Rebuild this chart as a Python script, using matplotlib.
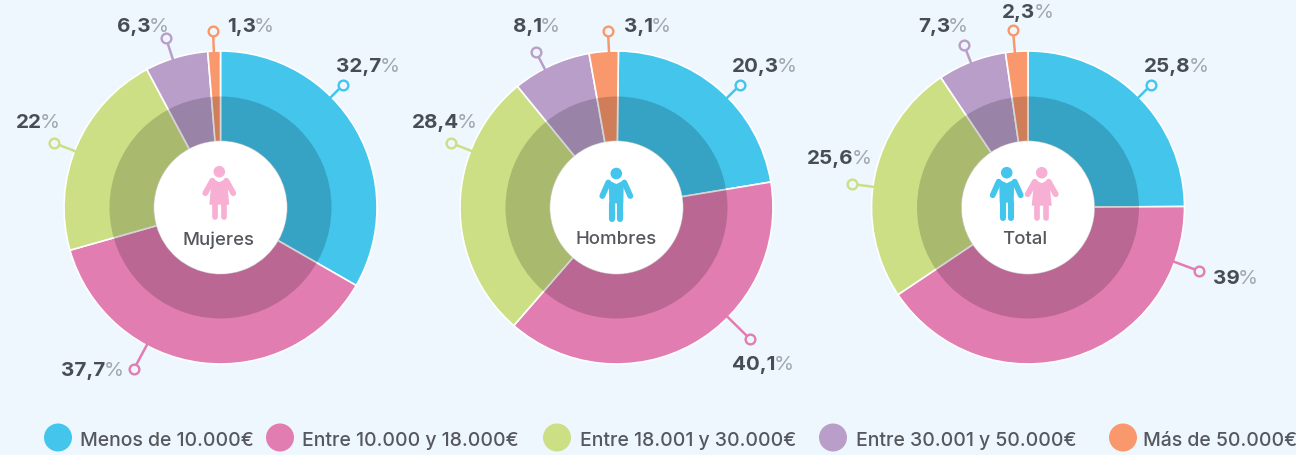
# -*- coding: utf-8 -*-
import matplotlib
matplotlib.use('Agg')
from matplotlib import pyplot as plt
from matplotlib.patches import Circle, Polygon

W, H = 1296, 455
BG = '#EEF7FD'
plt.rcParams['font.family'] = ['Inter', 'DejaVu Sans']

categories = ['Menos de 10.000€', 'Entre 10.000 y 18.000€', 'Entre 18.001 y 30.000€',
              'Entre 30.001 y 50.000€', 'Más de 50.000€']
colors = ['#43C5EC', '#E27DB1', '#CCDF85', '#B99ECA', '#F9986C']

# values as printed on the labels
mujeres = [32.7, 37.7, 22, 6.3, 1.3]
hombres = [20.3, 40.1, 28.4, 8.1, 3.1]
total = [25.8, 39, 25.6, 7.3, 2.3]

# arcs as drawn in the picture, they do not follow the labels exactly
mujeres_arc = [33.3, 37.3, 21.6, 6.5, 1.3]
hombres_arc = [22.2, 39.0, 27.7, 8.1, 3.0]
total_arc = [24.9, 40.7, 25.0, 7.1, 2.3]

titles = ['Mujeres', 'Hombres', 'Total']

# layout, all in pixels of the reference
centers = [220.5, 616.5, 1028]
start = [90, 89.3, 90]
title_x = [219, 616, 1024.5]
cy = 207.5
R_OUT, R_MID, R_IN = 156.5, 111, 66
marker_pos = [[(343, 85), (134, 369), (54, 143), (166, 38), (213, 31)],
              [(740, 85), (750, 339), (451, 143), (536, 52), (608, 31)],
              [(1151, 85), (1199, 271), (852, 184), (964, 45), (1013, 30)]]
label_pos = [[(336, 65), (61, 369), (16, 122), (117, 25), (227, 25)],
             [(732, 65), (732, 364), (412, 122), (513, 25), (624, 25)],
             [(1144, 65), (1213, 277), (807, 158), (918, 25), (1002, 12)]]
legend_dot = [58, 280, 557, 833, 1123]
legend_txt = [80, 302, 580, 856, 1143]


def Y(y):
    return H - y


def woman(ax, x, y0, col, zorder=6):
    ax.add_patch(Circle((x, Y(y0)), 5.8, color=col, lw=0, zorder=zorder))
    ax.add_patch(Polygon([(x - 7, Y(y0 + 7)), (x, Y(y0 + 10.5)), (x + 7, Y(y0 + 7)),
                          (x + 8, Y(y0 + 13)), (x + 10, Y(y0 + 33)), (x - 10, Y(y0 + 33)),
                          (x - 8, Y(y0 + 13))], color=col, lw=0, zorder=zorder))
    for s in (-1, 1):
        ax.plot([x + s * 7, x + s * 14], [Y(y0 + 9), Y(y0 + 21.5)], color=col, lw=4.2,
                solid_capstyle='round', zorder=zorder)
        ax.plot([x + s * 4.4, x + s * 4.4], [Y(y0 + 30), Y(y0 + 45)], color=col, lw=4.1,
                solid_capstyle='round', zorder=zorder)


def man(ax, x, y0, col, zorder=6):
    ax.add_patch(Circle((x, Y(y0)), 5.8, color=col, lw=0, zorder=zorder))
    ax.add_patch(Polygon([(x - 7.5, Y(y0 + 7)), (x, Y(y0 + 10.5)), (x + 7.5, Y(y0 + 7)),
                          (x + 7, Y(y0 + 30)), (x - 7, Y(y0 + 30))], color=col, lw=0, zorder=zorder))
    for s in (-1, 1):
        ax.plot([x + s * 8, x + s * 14], [Y(y0 + 9), Y(y0 + 22.5)], color=col, lw=4.2,
                solid_capstyle='round', zorder=zorder)
        ax.plot([x + s * 4.1, x + s * 4.1], [Y(y0 + 30), Y(y0 + 45.5)], color=col, lw=4.4,
                solid_capstyle='round', zorder=zorder)


fig = plt.figure(figsize=(W / 100, H / 100), dpi=100, facecolor=BG)
ax = fig.add_axes([0, 0, 1, 1])
ax.set_facecolor(BG)

for n, arcs in enumerate([mujeres_arc, hombres_arc, total_arc]):
    cx = centers[n]
    # outer ring, white separators
    ax.pie(arcs, colors=colors, startangle=start[n], counterclock=False, center=(cx, Y(cy)),
           radius=R_OUT, wedgeprops={'width': R_OUT - R_IN, 'edgecolor': 'white', 'linewidth': 1.2})
    # dark band on top
    ax.pie([1], colors=['black'], center=(cx, Y(cy)), radius=R_MID,
           wedgeprops={'width': R_MID - R_IN, 'alpha': 0.17, 'linewidth': 0})
    ax.add_patch(Circle((cx, Y(cy)), R_IN, color='white', lw=0, zorder=5))
    ax.text(title_x[n], Y(240), titles[n], ha='center', va='center', fontsize=13.4,
            fontweight='medium', color='#54575C', zorder=7)

man(ax, 616.3, 173.5, colors[0])
woman(ax, 219.3, 171.7, '#F7B0D3')
man(ax, 1006.7, 172.7, colors[0])
woman(ax, 1041.7, 172.7, '#F7B0D3')

ax.set_xlim(0, W)
ax.set_ylim(0, H)
ax.set_aspect('equal')
ax.axis('off')

fig.canvas.draw()
rend = fig.canvas.get_renderer()
inv = ax.transData.inverted()

for n, values in enumerate([mujeres, hombres, total]):
    cx = centers[n]
    for i, v in enumerate(values):
        mx, my = marker_pos[n][i]
        dx, dy = mx - cx, my - cy
        d = (dx ** 2 + dy ** 2) ** 0.5
        ex, ey = cx + dx / d * (R_OUT - 1), cy + dy / d * (R_OUT - 1)
        ax.plot([ex, mx], [Y(ey), Y(my)], color=colors[i], lw=1.8, zorder=1.5)
        ax.plot([mx], [Y(my)], 'o', ms=7, mfc=BG, mec=colors[i], mew=1.7, zorder=3)
        lx, ly = label_pos[n][i]
        t = ax.text(lx, Y(ly + 1.5), f'{v:g}'.replace('.', ','), ha='left', va='center',
                    fontsize=14.8, fontweight='bold', color='#474D57', zorder=8)
        end = inv.transform(t.get_window_extent(rend).get_points())[1][0]
        ax.text(end - 2, Y(ly + 1.5), '%', ha='left', va='center', fontsize=14.8,
                color='#A0A7AF', zorder=8)

# legend row
for i, c in enumerate(categories):
    ax.add_patch(Circle((legend_dot[i], Y(437.5)), 14, color=colors[i], lw=0))
    ax.text(legend_txt[i], Y(441.5), c, ha='left', va='center', fontsize=14,
            fontweight='medium', color='#55585D')

fig.savefig('out.png', dpi=100, facecolor=BG)
